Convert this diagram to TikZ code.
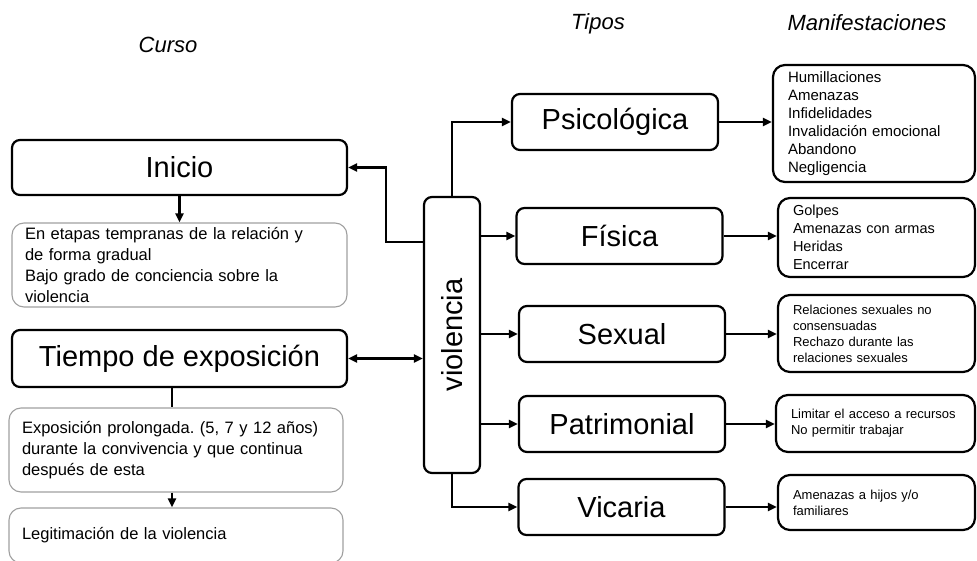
\documentclass[tikz,border=0pt]{standalone}
\usepackage{fontspec}
\setmainfont{Liberation Sans}
\usetikzlibrary{arrows.meta,positioning}
\frenchspacing

\begin{document}
\begin{tikzpicture}[x=1pt, y=-1pt, >={Triangle[length=9pt,width=8pt]}, line width=2.2pt,
  every node/.style={inner sep=0pt},
  bigbox/.style={draw, line width=2.2pt, rounded corners=8pt, font=\fontsize{29}{33}\selectfont},
  notebox/.style={draw=gray!75, line width=1.1pt, rounded corners=12pt, align=left, inner xsep=13pt,
    font=\fontsize{16.5}{21}\selectfont},
  manifbox/.style={draw, line width=2.2pt, rounded corners=12pt, align=left, inner xsep=15pt},
  head/.style={anchor=base, font=\itshape\fontsize{22}{26}\selectfont}]
  \useasboundingbox (0,0) rectangle (977,561);

  % Headings
  \node[head] (hcurso) at (168,53) {Curso};
  \node[head] (htipos) at (598,30) {Tipos};
  \node[head] (hmanif) at (867,31) {Manifestaciones};

  % Course column
  \node[bigbox, minimum width=335pt, minimum height=55pt] (ini) at (179.5,167.5) {Inicio};
  \node[notebox, text width=309pt, minimum height=84pt] (note1) at (179.5,265)
    {En etapas tempranas de la relación y\\de forma gradual\\Bajo grado de conciencia sobre la\\violencia};
  \node[bigbox, minimum width=335pt, minimum height=57pt] (tiempo) at (179.5,358.5) {Tiempo de exposición};
  \node[notebox, text width=308pt, minimum height=84pt] (note2) at (176,450)
    {Exposición prolongada. (5, 7 y 12 años)\\durante la convivencia y que continua\\después de esta};
  \node[notebox, text width=308pt, minimum height=55pt] (legit) at (176,535.5) {Legitimación de la violencia};

  % Centre
  \node[bigbox, minimum width=56pt, minimum height=276pt] (viol) at (452,335) {\rotatebox{90}{violencia}};

  % Types column
  \foreach \nm/\x/\y/\lbl in {psi/615/122/Psicológica, fis/619.5/236/Física, sex/622/334/Sexual,
      pat/622/424/Patrimonial, vic/621.5/507/Vicaria} {
    \node[bigbox, minimum width=206pt, minimum height=56pt] (\nm) at (\x,\y) {\lbl};
  }

  % Manifestations column
  \node[manifbox, text width=172pt, minimum height=117pt, font=\fontsize{15}{18}\selectfont] (man1) at (874,123.5)
    {Humillaciones\\Amenazas\\Infidelidades\\Invalidación emocional\\Abandono\\Negligencia};
  \node[manifbox, text width=167pt, minimum height=79pt, font=\fontsize{14.5}{18}\selectfont] (man2) at (876.5,237.5)
    {Golpes\\Amenazas con armas\\Heridas\\Encerrar};
  \node[manifbox, text width=167pt, minimum height=77pt, font=\fontsize{13}{16}\selectfont] (man3) at (876.5,333.5)
    {Relaciones sexuales no\\consensuadas\\Rechazo durante las\\relaciones sexuales};
  \node[manifbox, text width=169pt, minimum height=57pt, font=\fontsize{13}{16}\selectfont] (man4) at (875.5,423.5)
    {Limitar el acceso a recursos\\No permitir trabajar};
  \node[manifbox, text width=167pt, minimum height=55pt, font=\fontsize{13}{16}\selectfont] (man5) at (876.5,502.5)
    {Amenazas a hijos y/o\\familiares};

  % Connectors
  \coordinate (bend) at (386,242);
  \draw[->] (viol.west |- bend) -- (bend) |- (ini.east);
  \draw[<->] (tiempo.east) -- (viol.west |- tiempo.east);
  \draw[->] (ini.south) -- (note1.north);
  \draw ([xshift=-7.5pt]tiempo.south) -- ([xshift=-7.5pt]tiempo.south |- note2.north);
  \draw[->] ([xshift=-4pt]note2.south) -- ([xshift=-4pt]legit.north);
  \draw[->] (viol.north) |- (psi.west);
  \foreach \nm in {fis,sex,pat}
    \draw[->] (viol.east |- \nm.west) -- (\nm.west);
  \draw[->] (viol.south) |- (vic.west);
  \foreach \nm/\m in {psi/man1, fis/man2, sex/man3, pat/man4, vic/man5}
    \draw[->] (\nm.east) -- (\nm.east -| \m.west);
\end{tikzpicture}
\end{document}
